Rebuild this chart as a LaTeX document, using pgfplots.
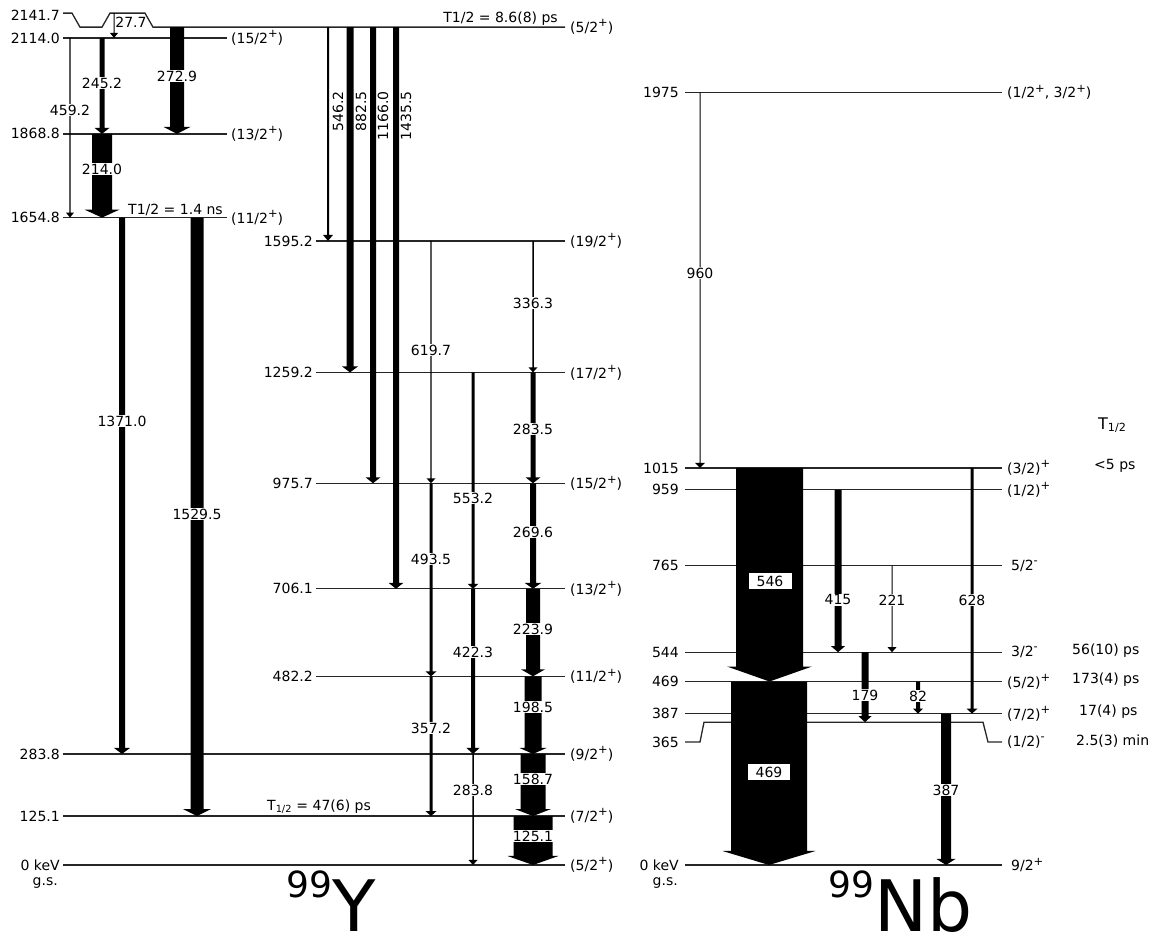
\documentclass[border=0pt]{standalone}
\usepackage{fontspec}
\setmainfont{DejaVu Sans}
\usepackage{pgfplots}
\pgfplotsset{compat=1.18}

% horizontal level line: \lev{x1}{x2}{energy}
\newcommand\lev[3]{\addplot[black!85, line width=1.3pt, forget plot] coordinates {(#1,#3) (#2,#3)};}

% gamma transition drawn as a filled arrow:
% \gam{x}{E_initial}{E_final}{shaft width}{head width}{head length}
\newcommand\gam[6]{%
  \pgfmathsetmacro\ga{#1-#4/2}%
  \pgfmathsetmacro\gb{#1+#4/2}%
  \pgfmathsetmacro\gc{#1-#5/2}%
  \pgfmathsetmacro\gd{#1+#5/2}%
  \pgfmathsetmacro\ge{#3+#6*2.5562}%
  \edef\gtmp{\noexpand\addplot[fill=black, draw=none, forget plot] coordinates
    {(\ga,#2) (\gb,#2) (\gb,\ge) (\gd,\ge) (#1,#3) (\gc,\ge) (\ga,\ge)};}%
  \gtmp}

\newcommand\parity[1]{\raisebox{0.42em}{\fontsize{11.5}{12}\selectfont #1}}

\begin{document}
\begin{tikzpicture}[font=\fontsize{14}{16}\selectfont]
\begin{axis}[
  scale only axis, width=1165pt, height=938pt,
  xmin=0, xmax=1165, ymin=-186.6, ymax=2211.1,
  hide axis, clip=false,
]

% ---------------- 99Y levels ----------------
\addplot[black!85, line width=1.3pt, forget plot] coordinates
  {(63,2177.5) (72,2177.5) (80,2141.7) (102,2141.7) (110,2177.5) (145,2177.5) (153,2141.7) (565,2141.7)};
\lev{63}{227}{2114.0}
\lev{63}{227}{1868.8}
\lev{63}{227}{1654.8}
\lev{316}{565}{1595.2}
\lev{316}{565}{1259.2}
\lev{316}{565}{975.7}
\lev{316}{565}{706.1}
\lev{316}{565}{482.2}
\lev{63}{565}{283.8}
\lev{63}{565}{125.1}
\lev{63}{565}{0}

% ---------------- 99Nb levels ----------------
\lev{685}{1002}{1975}
\lev{685}{1002}{1015}
\lev{685}{1002}{959}
\lev{685}{1002}{765}
\lev{685}{1002}{544}
\lev{685}{1002}{469}
\lev{685}{1002}{387}
\addplot[black!85, line width=1.3pt, forget plot] coordinates
  {(685,314.4) (700,314.4) (704,365) (983,365) (988,314.4) (1002,314.4)};
\lev{685}{1002}{0}

% ---------------- 99Y transitions ----------------
\gam{114}{2177.5}{2114.0}{1}{8}{5}
\gam{102}{2114.0}{1868.8}{5}{15}{6}
\gam{177}{2141.7}{1868.8}{14}{27}{7}
\gam{70}{2114.0}{1654.8}{1.2}{8}{5}
\gam{102}{1868.8}{1654.8}{20}{35}{8}
\gam{122}{1654.8}{283.8}{6}{16}{6}
\gam{197}{1654.8}{125.1}{13}{28}{7}
\gam{328}{2141.7}{1595.2}{2}{10}{6}
\gam{350}{2141.7}{1259.2}{7}{16}{6}
\gam{373}{2141.7}{975.7}{6}{15}{6}
\gam{396}{2141.7}{706.1}{6}{15}{6}
\gam{431}{1595.2}{975.7}{1.2}{9}{5}
\gam{533}{1595.2}{1259.2}{1.5}{9}{5}
\gam{473}{1259.2}{706.1}{3}{11}{5}
\gam{533}{1259.2}{975.7}{5}{15}{6}
\gam{431}{975.7}{482.2}{3}{11}{5}
\gam{533}{975.7}{706.1}{6}{17}{6}
\gam{473}{706.1}{283.8}{4}{13}{6}
\gam{533}{706.1}{482.2}{14}{24}{7}
\gam{431}{482.2}{125.1}{3}{11}{5}
\gam{533}{482.2}{283.8}{17}{27}{6}
\gam{473}{283.8}{0}{1.5}{9}{5}
\gam{533}{283.8}{125.1}{25}{36}{7}
\gam{533}{125.1}{0}{39}{51}{9}

% ---------------- 99Nb transitions ----------------
\gam{700}{1975}{1015}{1}{10}{5}
\gam{769.5}{1015}{469}{67}{85}{15}
\gam{769}{469}{0}{76}{93}{14}
\gam{838}{959}{544}{7}{14}{6}
\gam{892}{765}{544}{1}{9}{5}
\gam{972}{1015}{387}{3}{11}{5}
\gam{865}{544}{365}{7}{13}{6}
\gam{918}{469}{387}{4}{10}{5}
\gam{946}{387}{0}{10}{19}{6}

% ---------------- transition energies ----------------
\begin{scope}[every node/.style={fill=white, inner sep=1pt}]
\node at (axis cs:102,1998.9) {245.2};
\node at (axis cs:177,2016.8) {272.9};
\node at (axis cs:70,1929.9) {459.2};
\node at (axis cs:102,1779.1) {214.0};
\node at (axis cs:122,1135.0) {1371.0};
\node at (axis cs:197,897.2) {1529.5};
\node at (axis cs:431,1316.4) {619.7};
\node at (axis cs:533,1436.6) {336.3};
\node at (axis cs:473,938.1) {553.2};
\node at (axis cs:533,1114.5) {283.5};
\node at (axis cs:431,782.2) {493.5};
\node at (axis cs:533,851.2) {269.6};
\node at (axis cs:473,544.5) {422.3};
\node at (axis cs:533,603.3) {223.9};
\node at (axis cs:431,350.2) {357.2};
\node at (axis cs:533,403.9) {198.5};
\node at (axis cs:473,191.7) {283.8};
\node at (axis cs:533,219.8) {158.7};
\node at (axis cs:533,74.1) {125.1};
% 99Nb
\node at (axis cs:700,1513.3) {960};
\node at (axis cs:838,677.4) {415};
\node at (axis cs:892,677.4) {221};
\node at (axis cs:972,677.4) {628};
\node at (axis cs:865,434.6) {179};
\node at (axis cs:918,432.0) {82};
\node at (axis cs:946,191.7) {387};
\node[inner sep=0, minimum width=43pt, minimum height=16pt] at (axis cs:770,726.0) {546};
\node[inner sep=0, minimum width=42pt, minimum height=16pt] at (axis cs:769,237.7) {469};
\end{scope}

\node[inner sep=0] at (axis cs:131,2154.9) {27.7};
\begin{scope}[every node/.style={rotate=90, anchor=east, inner sep=0}]
\node at (axis cs:338,1978.5) {546.2};
\node at (axis cs:361,1978.5) {882.5};
\node at (axis cs:383,1978.5) {1166.0};
\node at (axis cs:406,1978.5) {1435.5};
\end{scope}

\node[anchor=south east, inner sep=2pt] at (axis cs:560,2141.7) {T1/2 = 8.6(8) ps};
\node[anchor=south west, inner sep=2pt] at (axis cs:126,1654.8) {T1/2 = 1.4 ns};
\node[anchor=south west, inner sep=2pt] at (axis cs:265,125.1) {T\textsubscript{1/2} = 47(6) ps};

% ---------------- level energies ----------------
\begin{scope}[every node/.style={anchor=east, inner sep=1pt}]
\node at (axis cs:61,2172) {2141.7};
\node at (axis cs:61,2114.0) {2114.0};
\node at (axis cs:61,1868.8) {1868.8};
\node at (axis cs:61,1654.8) {1654.8};
\node at (axis cs:314,1595.2) {1595.2};
\node at (axis cs:314,1259.2) {1259.2};
\node at (axis cs:314,975.7) {975.7};
\node at (axis cs:314,706.1) {706.1};
\node at (axis cs:314,482.2) {482.2};
\node at (axis cs:61,283.8) {283.8};
\node at (axis cs:61,125.1) {125.1};
\node at (axis cs:61,0) {0 keV};
\node at (axis cs:59,-46) {g.s.};
\node at (axis cs:680,1975) {1975};
\node at (axis cs:680,1015) {1015};
\node at (axis cs:680,959) {959};
\node at (axis cs:680,765) {765};
\node at (axis cs:680,544) {544};
\node at (axis cs:680,469) {469};
\node at (axis cs:680,387) {387};
\node at (axis cs:680,314.4) {365};
\node at (axis cs:680,0) {0 keV};
\node at (axis cs:679,-46) {g.s.};
\end{scope}

% ---------------- spins, parities and half-lives ----------------
\begin{scope}[every node/.style={anchor=west, inner sep=1pt}]
\node at (axis cs:230,2114.0) {(15/2\parity{+})};
\node at (axis cs:230,1868.8) {(13/2\parity{+})};
\node at (axis cs:230,1654.8) {(11/2\parity{+})};
\node at (axis cs:569,2141.7) {(5/2\parity{+})};
\node at (axis cs:569,1595.2) {(19/2\parity{+})};
\node at (axis cs:569,1259.2) {(17/2\parity{+})};
\node at (axis cs:569,975.7) {(15/2\parity{+})};
\node at (axis cs:569,706.1) {(13/2\parity{+})};
\node at (axis cs:569,482.2) {(11/2\parity{+})};
\node at (axis cs:569,283.8) {(9/2\parity{+})};
\node at (axis cs:569,125.1) {(7/2\parity{+})};
\node at (axis cs:569,0) {(5/2\parity{+})};
% 99Nb spins
\node at (axis cs:1006,1975) {(1/2\parity{+}, 3/2\parity{+})};
\node at (axis cs:1006,1015) {(3/2)\parity{+}};
\node at (axis cs:1006,959) {(1/2)\parity{+}};
\node at (axis cs:1010,765) {5/2\parity{-}};
\node at (axis cs:1010,544) {3/2\parity{-}};
\node at (axis cs:1006,469) {(5/2)\parity{+}};
\node at (axis cs:1006,387) {(7/2)\parity{+}};
\node at (axis cs:1006,314.4) {(1/2)\parity{-}};
\node at (axis cs:1010,0) {9/2\parity{+}};
% 99Nb half-lives
\node at (axis cs:1093,1020) {<5 ps};
\node at (axis cs:1071,549) {56(10) ps};
\node at (axis cs:1071,474) {173(4) ps};
\node at (axis cs:1078,392) {17(4) ps};
\node at (axis cs:1075,317) {2.5(3) min};
\node[font=\fontsize{16}{18}\selectfont] at (axis cs:1097,1124.7) {T\textsubscript{1/2}};
\end{scope}

% nuclide names
\node[anchor=base west, inner sep=0] at (axis cs:286,-170)
  {\raisebox{34.3pt}{\fontsize{36}{36}\selectfont 99}\fontsize{71}{71}\selectfont Y};
\node[anchor=base west, inner sep=0] at (axis cs:828,-170)
  {\raisebox{34.3pt}{\fontsize{36}{36}\selectfont 99}\fontsize{71}{71}\selectfont Nb};

\end{axis}
\pgfresetboundingbox
\path (current axis.south west) rectangle (current axis.north east);
\end{tikzpicture}
\end{document}
